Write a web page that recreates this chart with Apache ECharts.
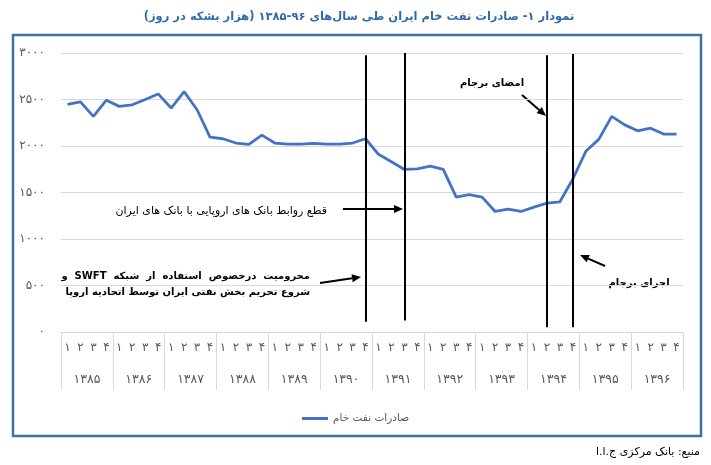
<!DOCTYPE html>
<html>
<head>
<meta charset="utf-8">
<script src="https://cdn.jsdelivr.net/npm/echarts@6/dist/echarts.min.js"></script>
<style>
  html, body { margin: 0; padding: 0; background: #fff; }
  #chart { width: 711px; height: 465px; }
</style>
</head>
<body>
<div id="chart" dir="rtl"></div>
<script>
// سال‌ها و فصل‌ها
var years = ['۱۳۸۵', '۱۳۸۶', '۱۳۸۷', '۱۳۸۸', '۱۳۸۹', '۱۳۹۰', '۱۳۹۱', '۱۳۹۲', '۱۳۹۳', '۱۳۹۴', '۱۳۹۵', '۱۳۹۶']
var quarterLabels = ['۱', '۲', '۳', '۴']
var yTickLabels = ['۰', '۵۰۰', '۱۰۰۰', '۱۵۰۰', '۲۰۰۰', '۲۵۰۰', '۳۰۰۰']

// صادرات نفت خام (هزار بشکه در روز) - فصلی
var oilExports = [
  2447, 2475, 2319, 2493,
  2426, 2443, 2500, 2560,
  2408, 2585, 2390, 2096,
  2078, 2032, 2018, 2117,
  2032, 2021, 2021, 2028,
  2021, 2021, 2032, 2078,
  1911, 1830, 1748, 1755,
  1784, 1748, 1450, 1478,
  1450, 1296, 1321, 1296,
  1343, 1386, 1400, 1645,
  1943, 2071, 2319, 2227,
  2163, 2191, 2128, 2128
]

// خطوط عمودی رویدادها (اندیس فصل، بالا و پایین خط)
var eventQuarter = [23, 26, 37, 39]
var eventTop = [2975, 3000, 2975, 2990]
var eventBottom = [110, 125, 50, 50]

var seriesName = 'صادرات نفت خام'

var categories = []
years.forEach(function (y) {
  quarterLabels.forEach(function (q) { categories.push(y + '-' + q) })
})

var FONT = 'DejaVu Sans'

function arrow (x1, y1, x2, y2) {
  var a = Math.atan2(y2 - y1, x2 - x1)
  var len = 9, w = 4
  var bx = x2 - len * Math.cos(a), by = y2 - len * Math.sin(a)
  return [
    { type: 'line', silent: true, shape: { x1: x1, y1: y1, x2: bx, y2: by }, style: { stroke: '#000', lineWidth: 2 } },
    { type: 'polygon', silent: true, shape: { points: [[x2, y2], [bx + w * Math.sin(a), by - w * Math.cos(a)], [bx - w * Math.sin(a), by + w * Math.cos(a)]] }, style: { fill: '#000' } }
  ]
}

function label (x, y, text, opts) {
  opts = opts || {}
  return {
    type: 'text', silent: true, x: x, y: y,
    style: {
      text: text, fill: opts.color || '#000', fontFamily: FONT,
      fontSize: opts.size || 11, fontWeight: opts.bold ? 'bold' : 'normal',
      align: opts.align || 'right', verticalAlign: 'middle', lineHeight: opts.lineHeight || 16
    }
  }
}

var elements = [
  { type: 'rect', silent: true, shape: { x: 13, y: 35, width: 688, height: 401 }, style: { fill: 'none', stroke: '#41719C', lineWidth: 2.5 } },
  label(359, 17, 'نمودار ۱- صادرات نفت خام ایران طی سال‌های ۹۶-۱۳۸۵ (هزار بشکه در روز)', { size: 11.5, bold: true, color: '#2E6BA8', align: 'center' }),
  label(327, 211, 'قطع روابط بانک های اروپایی با بانک های ایران', { size: 11 }),
  label(310, 284, 'محرومیت  درخصوص  استفاده  از  شبکه  SWFT  و\nشروع تحریم بخش نفتی ایران توسط اتحادیه اروپا', { size: 10, bold: true }),
  label(492, 83, 'امضای برجام', { size: 10, bold: true, align: 'center' }),
  label(639, 283, 'اجرای برجام', { size: 10, bold: true, align: 'center' }),
  label(700, 452, 'منبع: بانک مرکزی ج.ا.ا', { size: 11 })
]
elements = elements
  .concat(arrow(343, 209, 403, 209))
  .concat(arrow(320, 283, 361, 277))
  .concat(arrow(522, 95, 546, 116))
  .concat(arrow(605, 266, 580, 255))

var eventLines = eventQuarter.map(function (q, i) {
  return [
    { coord: [categories[q], eventTop[i]] },
    { coord: [categories[q], eventBottom[i]] }
  ]
})

var chart = echarts.init(document.getElementById('chart'), null, { renderer: 'canvas' })

chart.setOption({
  animation: false,
  color: ['#4472C4'],
  textStyle: { fontFamily: FONT },
  grid: { left: 61, right: 28, top: 53, bottom: 133 },
  legend: {
    data: [seriesName],
    left: 297,
    top: 408,
    icon: 'rect',
    itemWidth: 26,
    itemHeight: 3,
    itemGap: 4,
    textStyle: { fontSize: 10.5, color: '#595959', fontFamily: FONT }
  },
  xAxis: [
    {
      type: 'category',
      data: categories,
      position: 'bottom',
      boundaryGap: true,
      axisLine: { show: true, lineStyle: { color: '#d9d9d9' } },
      axisTick: { show: false },
      axisLabel: {
        interval: 0, margin: 10, fontSize: 12, color: '#595959',
        formatter: function (v) { return v.split('-')[1] }
      }
    },
    {
      type: 'category',
      data: years,
      position: 'bottom',
      boundaryGap: true,
      axisLine: { show: false },
      axisTick: { show: true, interval: 0, length: 58, lineStyle: { color: '#d9d9d9' } },
      axisLabel: { interval: 0, margin: 41, fontSize: 12.5, color: '#595959' }
    }
  ],
  yAxis: {
    type: 'value',
    min: 0,
    max: 3000,
    interval: 500,
    axisLine: { show: false },
    axisTick: { show: false },
    splitLine: { lineStyle: { color: '#d9d9d9' } },
    axisLabel: {
      margin: 16, fontSize: 12, color: '#595959',
      formatter: function (v) { return yTickLabels[v / 500] }
    }
  },
  series: [{
    name: seriesName,
    type: 'line',
    xAxisIndex: 0,
    data: oilExports,
    showSymbol: false,
    lineStyle: { width: 2.8, color: '#4472C4' },
    markLine: {
      silent: true,
      symbol: ['none', 'none'],
      label: { show: false },
      lineStyle: { color: '#000', width: 2, type: 'solid' },
      emphasis: { disabled: true },
      data: eventLines
    }
  }],
  graphic: { elements: elements }
})
</script>
</body>
</html>
